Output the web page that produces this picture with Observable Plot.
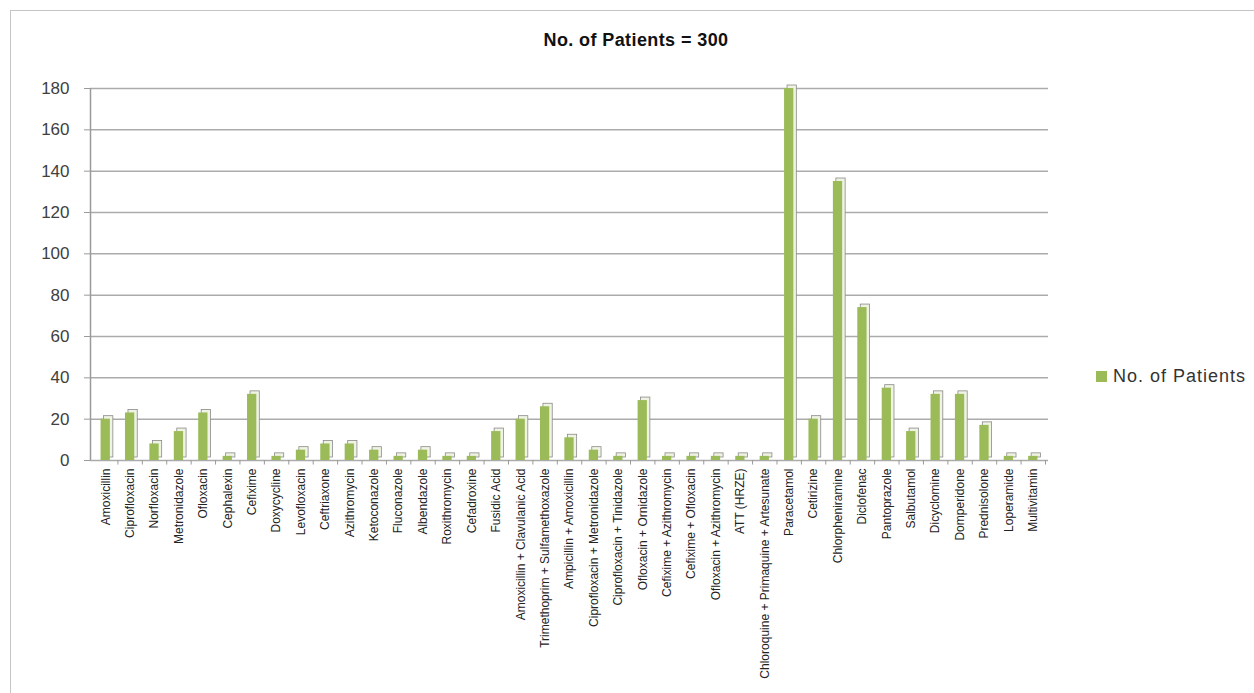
<!DOCTYPE html>
<html>
<head>
<meta charset="utf-8">
<script src="https://cdn.jsdelivr.net/npm/d3@7"></script>
<script src="https://cdn.jsdelivr.net/npm/@observablehq/plot@0.6"></script>
<style>
  html, body { margin: 0; padding: 0; background: #fff; }
  #wrap { position: relative; width: 1254px; height: 693px; overflow: hidden; font-family: "Liberation Sans", Arial, sans-serif; }
  #frame { position: absolute; left: 10px; top: 10px; width: 1260px; height: 700px; border: 1.5px solid #c4c4c4; box-sizing: border-box; }
  #title { position: absolute; left: 0; width: 1272px; top: 30px; text-align: center; font-weight: bold; font-size: 18px; letter-spacing: 0.4px; color: #111; }
  #chart { position: absolute; left: 0; top: 0; }
  #legend { position: absolute; left: 1096px; top: 366px; font-size: 18px; letter-spacing: 1px; color: #333; display: flex; align-items: center; }
  #legend span.sw { display: inline-block; width: 11px; height: 11px; background: #9BBB59; margin-right: 6px; }
</style>
</head>
<body>
<div id="wrap">
  <div id="frame"></div>
  <div id="title">No. of Patients = 300</div>
  <div id="chart"></div>
  <div id="legend"><span class="sw"></span>No. of Patients</div>
</div>
<script>
const seriesName = "No. of Patients";
const drugs = [
  "Amoxicillin", "Ciprofloxacin", "Norfloxacin", "Metronidazole", "Ofloxacin",
  "Cephalexin", "Cefixime", "Doxycycline", "Levofloxacin", "Ceftriaxone",
  "Azithromycin", "Ketoconazole", "Fluconazole", "Albendazole", "Roxithromycin",
  "Cefadroxine", "Fusidic Acid", "Amoxicillin + Clavulanic Acid",
  "Trimethoprim + Sulfamethoxazole", "Ampicillin + Amoxicillin",
  "Ciprofloxacin + Metronidazole", "Ciprofloxacin + Tinidazole",
  "Ofloxacin + Ornidazole", "Cefixime + Azithromycin", "Cefixime + Ofloxacin",
  "Ofloxacin + Azithromycin", "ATT (HRZE)", "Chloroquine + Primaquine + Artesunate",
  "Paracetamol", "Cetirizine", "Chlorpheniramine", "Diclofenac", "Pantoprazole",
  "Salbutamol", "Dicyclomine", "Domperidone", "Prednisolone", "Loperamide", "Multivitamin"
];
const patients = [
  20, 23, 8, 14, 23,
  2, 32, 2, 5, 8,
  8, 5, 2, 5, 2,
  2, 14, 20,
  26, 11,
  5, 2,
  29, 2, 2,
  2, 2, 2,
  180, 20, 135, 74, 35,
  14, 32, 32, 17, 2, 2
];
const yTicks = [0, 20, 40, 60, 80, 100, 120, 140, 160, 180];

const data = drugs.map((d, i) => ({drug: d, value: patients[i]}));

const W = 1060, H = 690, ML = 90, MR = 12, MT = 88, MB = 230;
const xRange = [93, 1045];
const step = (xRange[1] - xRange[0]) / drugs.length;

const plot = Plot.plot({
  width: W,
  height: H,
  marginLeft: ML,
  marginRight: MR,
  marginTop: MT,
  marginBottom: MB,
  style: {fontFamily: "Liberation Sans, Arial, sans-serif", background: "transparent"},
  x: {domain: drugs, range: xRange, round: false, paddingInner: 0.62, paddingOuter: 0.31, label: null},
  y: {domain: [0, 180], label: null},
  marks: [
    Plot.ruleY(yTicks, {stroke: "#ababab", strokeWidth: 1.5}),
    Plot.ruleX([drugs[0]], {y1: 0, y2: 180, dx: -step / 2 - 3, stroke: "#9a9a9a", strokeWidth: 1.5}),
    Plot.ruleX(drugs, {y1: 0, y2: -2.2, dx: step / 2, stroke: "#9a9a9a"}),
    Plot.barY(data, {x: "drug", y: "value", fill: "#eef3e2", stroke: "#8a8a8a", strokeWidth: 0.8, dx: 3, dy: -3}),
    Plot.barY(data, {x: "drug", y: "value", fill: "#9BBB59"}),
    Plot.axisY({ticks: yTicks, tickSize: 6, tickPadding: 15, fontSize: 17, stroke: "#9a9a9a", fill: "#404040"}),
    Plot.axisX({tickSize: 0, tickPadding: 8, tickRotate: -90, fontSize: 12, fill: "#222"})
  ]
});
document.getElementById("chart").appendChild(plot);
</script>
</body>
</html>
